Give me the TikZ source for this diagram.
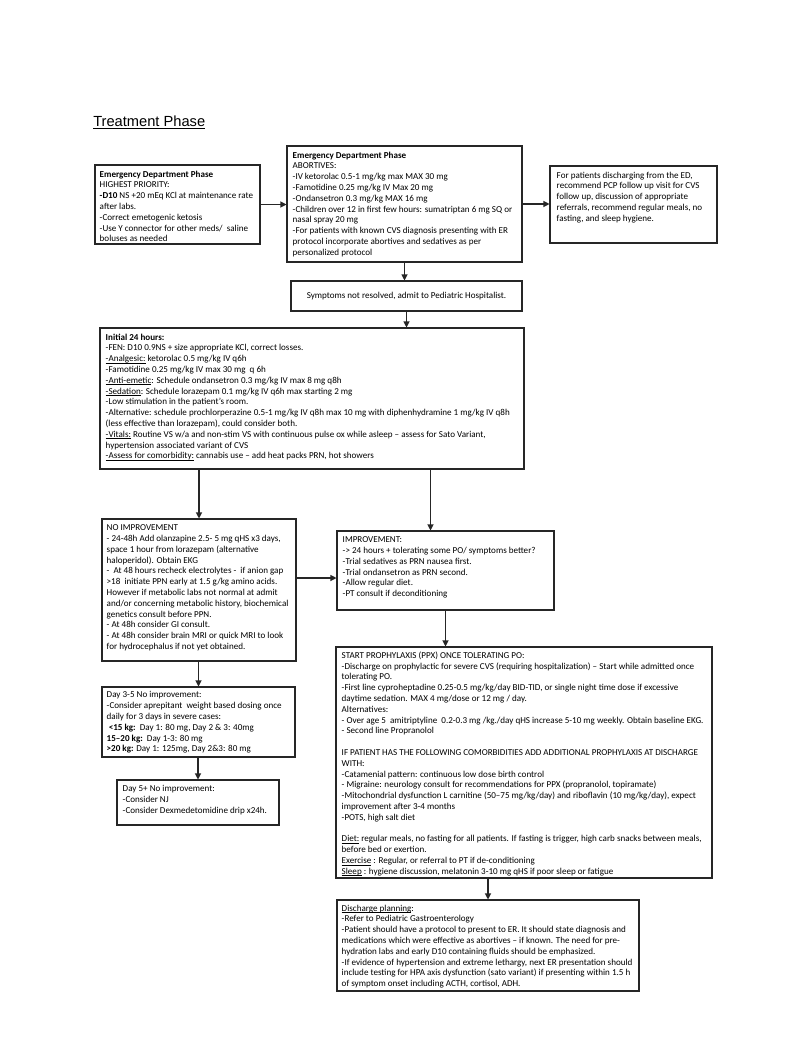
\documentclass[tikz,border=0pt]{standalone}
\usepackage{fontspec}
\setmainfont{Carlito}
\newfontfamily\arialfont{Liberation Sans}
\usetikzlibrary{arrows.meta,calc,fit}
\newcommand{\myul}[1]{\setbox0\hbox{#1}\rlap{\rule[-1.1pt]{\wd0}{0.4pt}}\box0\relax}
\begin{document}
\begin{tikzpicture}[x=0.75pt,y=-0.75pt,
  box/.style={draw=black!85, line width=0.8pt, inner sep=0pt},
  txt/.style={anchor=north west, align=left, inner sep=0pt, font=\fontsize{6.8}{8.1}\selectfont},
  arr/.style={draw=black!85, line width=0.8pt, -{Triangle[length=4.5pt,width=4.5pt]}}]
\fill[white] (0,0) rectangle (811,1053);
\useasboundingbox (0,0) rectangle (811,1053);

\node[anchor=base west, inner sep=0pt, font=\arialfont\fontsize{11}{13}\selectfont] (title) at (93,126) {\setbox0\hbox{Treatment Phase}\rlap{\rule[-2pt]{\wd0}{0.6pt}}\box0\relax};

% boxes
\node[box, fit={(95,165) (260,244)}] (A) {};
\node[box, fit={(287,146) (522,262)}] (B) {};
\node[box, fit={(550,166) (717,243)}] (C) {};
\node[box, fit={(291,281) (522,311)}] (D) {};
\node[box, fit={(100,328) (524,469)}] (E) {};
\node[box, fit={(102,519) (296,661)}] (F) {};
\node[box, fit={(337,531) (554,610)}] (G) {};
\node[box, fit={(336,647) (712,878)}] (H) {};
\node[box, fit={(337,900) (639,991)}] (I) {};
\node[box, fit={(102,687) (295,757)}] (J) {};
\node[box, fit={(117,780) (279,825)}] (K) {};

% texts
\node[txt] (At) at ($(A.north west)+(5,6)$) {\textbf{Emergency Department Phase}\\
HIGHEST PRIORITY:\\
\textbf{-D10} NS +20 mEq KCl at maintenance rate\\
after labs.\\
-Correct emetogenic ketosis\\
-Use Y connector for other meds/\ \ saline\\
boluses as needed};

\node[txt] (Bt) at ($(B.north west)+(6,6)$) {\textbf{Emergency Department Phase}\\
ABORTIVES:\\
-IV ketorolac 0.5-1 mg/kg max MAX 30 mg\\
-Famotidine 0.25 mg/kg IV Max 20 mg\\
-Ondansetron 0.3 mg/kg MAX 16 mg\\
-Children over 12 in first few hours: sumatriptan 6 mg SQ or\\
nasal spray 20 mg\\
-For patients with known CVS diagnosis presenting with ER\\
protocol incorporate abortives and sedatives as per\\
personalized protocol};

\node[txt] (Ct) at ($(C.north west)+(7,6)$) {For patients discharging from the ED,\\
recommend PCP follow up visit for CVS\\
follow up, discussion of appropriate\\
referrals, recommend regular meals, no\\
fasting, and sleep hygiene.};

\node[inner sep=0pt, font=\fontsize{6.8}{8.1}\selectfont] (Dt) at (D) {Symptoms not resolved, admit to Pediatric Hospitalist.};

\node[txt] (Et) at ($(E.north west)+(6,6)$) {\textbf{Initial 24 hours:}\\
-FEN: D10 0.9NS + size appropriate KCl, correct losses.\\
\myul{-Analgesic:} ketorolac 0.5 mg/kg IV q6h\\
-Famotidine 0.25 mg/kg IV max 30 mg\ \ q 6h\\
\myul{-Anti-emetic}: Schedule ondansetron 0.3 mg/kg IV max 8 mg q8h\\
\myul{-Sedation}: Schedule lorazepam 0.1 mg/kg IV q6h max starting 2 mg\\
-Low stimulation in the patient’s room.\\
-Alternative: schedule prochlorperazine 0.5-1 mg/kg IV q8h max 10 mg with diphenhydramine 1 mg/kg IV q8h\\
(less effective than lorazepam), could consider both.\\
\myul{-Vitals:} Routine VS w/a and non-stim VS with continuous pulse ox while asleep – assess for Sato Variant,\\
hypertension associated variant of CVS\\
\myul{-Assess for comorbidity:} cannabis use – add heat packs PRN, hot showers};

\node[txt] (Ft) at ($(F.north west)+(5,6)$) {NO IMPROVEMENT\\
- 24-48h Add olanzapine 2.5- 5 mg qHS x3 days,\\
space 1 hour from lorazepam (alternative\\
haloperidol). Obtain EKG\\
-\ \ At 48 hours recheck electrolytes -\ \ if anion gap\\
>18\ \ initiate PPN early at 1.5 g/kg amino acids.\\
However if metabolic labs not normal at admit\\
and/or concerning metabolic history, biochemical\\
genetics consult before PPN.\\
- At 48h consider GI consult.\\
- At 48h consider brain MRI or quick MRI to look\\
for hydrocephalus if not yet obtained.};

\node[txt] (Gt) at ($(G.north west)+(6,6)$) {IMPROVEMENT:\\
-> 24 hours + tolerating some PO/ symptoms better?\\
-Trial sedatives as PRN nausea first.\\
-Trial ondansetron as PRN second.\\
-Allow regular diet.\\
-PT consult if deconditioning};

\node[txt] (Ht) at ($(H.north west)+(6,5)$) {START PROPHYLAXIS (PPX) ONCE TOLERATING PO:\\
-Discharge on prophylactic for severe CVS (requiring hospitalization) – Start while admitted once\\
tolerating PO.\\
-First line cyproheptadine 0.25-0.5 mg/kg/day BID-TID, or single night time dose if excessive\\
daytime sedation. MAX 4 mg/dose or 12 mg / day.\\
Alternatives:\\
- Over age 5\ \ amitriptyline\ \ 0.2-0.3 mg /kg./day qHS increase 5-10 mg weekly. Obtain baseline EKG.\\
- Second line Propranolol\\[8.1pt]
IF PATIENT HAS THE FOLLOWING COMORBIDITIES ADD ADDITIONAL PROPHYLAXIS AT DISCHARGE\\
WITH:\\
-Catamenial pattern: continuous low dose birth control\\
- Migraine: neurology consult for recommendations for PPX (propranolol, topiramate)\\
-Mitochondrial dysfunction L carnitine (50–75 mg/kg/day) and riboflavin (10 mg/kg/day), expect\\
improvement after 3-4 months\\
-POTS, high salt diet\\[8.1pt]
\myul{Diet:} regular meals, no fasting for all patients. If fasting is trigger, high carb snacks between meals,\\
before bed or exertion.\\
\myul{Exercise} : Regular, or referral to PT if de-conditioning\\
\myul{Sleep} : hygiene discussion, melatonin 3-10 mg qHS if poor sleep or fatigue};

\node[txt] (It) at ($(I.north west)+(5,5)$) {\myul{Discharge planning}:\\
-Refer to Pediatric Gastroenterology\\
-Patient should have a protocol to present to ER. It should state diagnosis and\\
medications which were effective as abortives – if known. The need for pre-\\
hydration labs and early D10 containing fluids should be emphasized.\\
-If evidence of hypertension and extreme lethargy, next ER presentation should\\
include testing for HPA axis dysfunction (sato variant) if presenting within 1.5 h\\
of symptom onset including ACTH, cortisol, ADH.};

\node[txt] (Jt) at ($(J.north west)+(5,5)$) {Day 3-5 No improvement:\\
-Consider aprepitant\ \ weight based dosing once\\
daily for 3 days in severe cases:\\
\ \textbf{<15 kg:}\ \ Day 1: 80 mg, Day 2 \& 3: 40mg\\
\textbf{15–20 kg:}\ \ Day 1-3: 80 mg\\
\textbf{>20 kg:} Day 1: 125mg, Day 2\&3: 80 mg};

\node[txt] (Kt) at ($(K.north west)+(6,6)$) {Day 5+ No improvement:\\
-Consider NJ\\
-Consider Dexmedetomidine drip x24h.};

% connectors
\draw[arr] (A.east) -- (A.east -| B.west);
\draw[arr] (B.east) -- (B.east -| C.west);
\draw[arr] (B.south) -- (B.south |- D.north);
\draw[arr] (D.south) -- (D.south |- E.north);
\draw[arr] (F.north |- E.south) -- (F.north);
\coordinate (gin) at ($(G.north)+(-15,0)$);
\draw[arr] (gin |- E.south) -- (gin);
\coordinate (fg) at ($(G.west)+(0,7.5)$);
\draw[arr] (fg -| F.east) -- (fg);
\draw[arr] (G.south) -- (G.south |- H.north);
\draw[arr] (I.north |- H.south) -- (I.north);
\draw[arr] (J.north |- F.south) -- (J.north);
\draw[arr] (K.north |- J.south) -- (K.north);
\end{tikzpicture}
\end{document}
